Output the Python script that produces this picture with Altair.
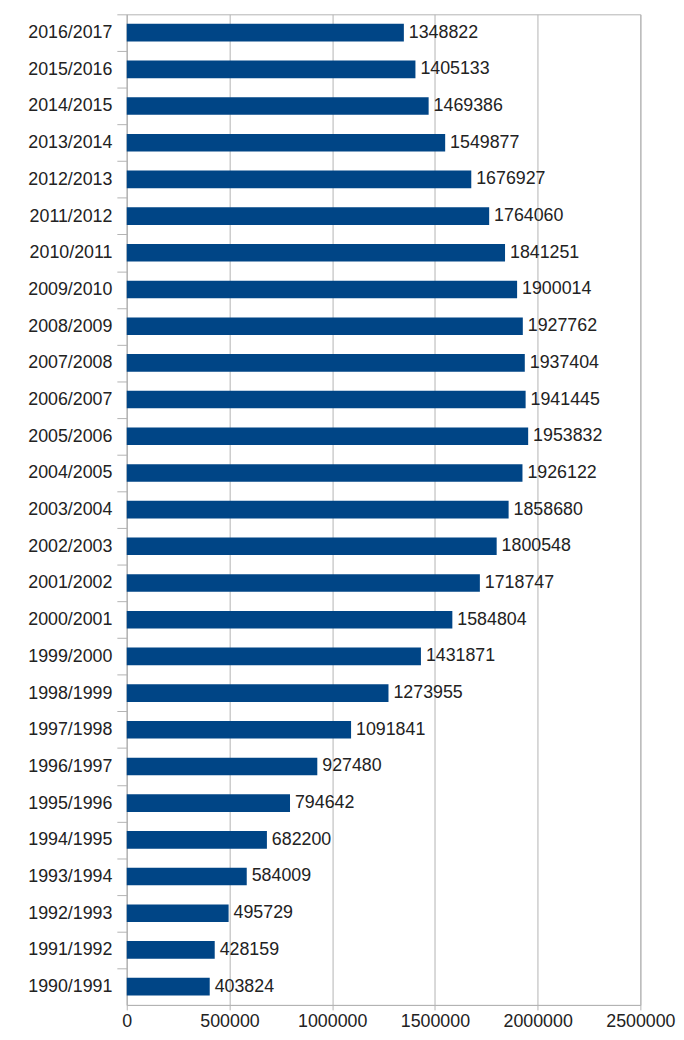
import altair as alt
import pandas as pd

years = ["2016/2017", "2015/2016", "2014/2015", "2013/2014", "2012/2013", "2011/2012",
         "2010/2011", "2009/2010", "2008/2009", "2007/2008", "2006/2007", "2005/2006",
         "2004/2005", "2003/2004", "2002/2003", "2001/2002", "2000/2001", "1999/2000",
         "1998/1999", "1997/1998", "1996/1997", "1995/1996", "1994/1995", "1993/1994",
         "1992/1993", "1991/1992", "1990/1991"]
values = [1348822, 1405133, 1469386, 1549877, 1676927, 1764060,
          1841251, 1900014, 1927762, 1937404, 1941445, 1953832,
          1926122, 1858680, 1800548, 1718747, 1584804, 1431871,
          1273955, 1091841, 927480, 794642, 682200, 584009,
          495729, 428159, 403824]
x_ticks = [0, 500000, 1000000, 1500000, 2000000, 2500000]

df = pd.DataFrame({"year": years, "value": values})

FONT = "Liberation Sans"
GRID = "#b3b3b3"
PLOT_H = 1001
HALF_STEP = PLOT_H / len(years) / 2

y = alt.Y("year:N", sort=years, title=None,
          scale=alt.Scale(paddingInner=0.52, paddingOuter=0.26),
          axis=alt.Axis(tickSize=10, tickOffset=-HALF_STEP, labelOffset=HALF_STEP,
                        tickColor=GRID, domainColor=GRID,
                        labelFont=FONT, labelFontSize=18, labelColor="#222222",
                        labelPadding=5, grid=False))
x = alt.X("value:Q", title=None,
          scale=alt.Scale(domain=[0, 2500000], nice=False),
          axis=alt.Axis(values=x_ticks, format="d", labelOverlap=False, labelFlush=False,
                        tickSize=5, tickColor=GRID, domainColor=GRID, gridColor=GRID,
                        labelFont=FONT, labelFontSize=18, labelColor="#222222",
                        labelPadding=3, grid=True))

bars = alt.Chart(df).mark_bar(color="#004586").encode(y=y, x=x)
labels = alt.Chart(df).mark_text(align="left", baseline="middle", dx=5,
                                 font=FONT, fontSize=18, color="#222222").encode(
    y=alt.Y("year:N", sort=years), x="value:Q", text=alt.Text("value:Q", format="d"))

chart = (bars + labels).properties(
    width=519, height=PLOT_H,
    padding={"left": 19, "top": 0, "right": 0, "bottom": 0},
).configure_view(stroke=GRID)

chart.save("out.html", embed_options={"renderer": "svg", "actions": False})
